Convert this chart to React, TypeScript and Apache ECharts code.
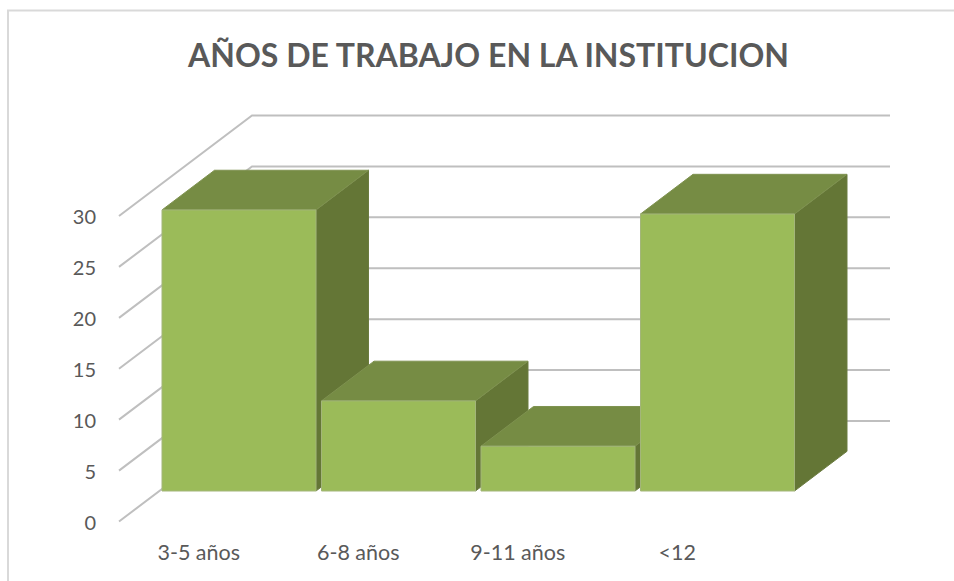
import React, { useEffect, useRef } from "react";
import * as echarts from "echarts";

const titleText = "AÑOS DE TRABAJO EN LA INSTITUCION";
const categories = ["3-5 años", "6-8 años", "9-11 años", "<12"];
const barValues = [27.6, 8.85, 4.4, 27.2];
const wallTicks = [0, 5, 10, 15, 20, 25, 30];

const WALL_DX = 133;
const WALL_DY = -100.5;
const BAR_DX = 43;
const BAR_DY = -30.5;
const TOP_DX = 52.5;
const TOP_DY = -39.7;
const BAR_WIDTH = 154;

export default function App() {
  const ref = useRef<HTMLDivElement>(null);
  useEffect(() => {
    const chart = echarts.init(ref.current!, undefined, { renderer: "svg" });
    chart.setOption({
      animation: false,
      backgroundColor: "#ffffff",
      title: {
        text: titleText,
        left: 483.5,
        top: 33,
        textAlign: "center",
        textStyle: { fontFamily: "Lato", fontWeight: "bold", fontSize: 32, color: "#595959" },
      },
      grid: { left: 119, top: 216, width: 638, height: 305.5 },
      xAxis: {
        type: "category",
        data: categories,
        axisLine: { show: false },
        axisTick: { show: false },
        axisLabel: { color: "#595959", fontFamily: "Lato", fontSize: 21.5, margin: 19 },
      },
      yAxis: {
        type: "value",
        min: 0,
        max: 30,
        interval: 5,
        splitLine: { show: false },
        axisLine: { show: false },
        axisTick: { show: false },
        axisLabel: { color: "#595959", fontFamily: "Lato", fontSize: 20, margin: 23 },
      },
      graphic: [
        {
          type: "polyline",
          shape: { points: [[8, 581], [8, 10.5], [954, 10.5]] },
          style: { stroke: "#d9d9d9", lineWidth: 2, fill: "none" },
          silent: true,
        },
      ],
      series: [
        {
          type: "custom",
          name: "walls",
          silent: true,
          z: 1,
          data: wallTicks.map((v) => [0, v]),
          encode: { x: 0, y: 1 },
          renderItem: (_p: any, api: any) => {
            const c = api.coord([0, api.value(1)]);
            const band = api.size([1, 0])[0];
            const x0 = c[0] - band / 2;
            const y0 = c[1];
            return {
              type: "polyline",
              shape: {
                points: [
                  [x0, y0],
                  [x0 + WALL_DX, y0 + WALL_DY],
                  [x0 + WALL_DX + band * categories.length, y0 + WALL_DY],
                ],
              },
              style: { stroke: "#bfbfbf", lineWidth: 2, fill: "none" },
            };
          },
        },
        {
          type: "custom",
          name: "bars",
          silent: true,
          z: 2,
          data: barValues.map((v, i) => [i, v]),
          encode: { x: 0, y: 1 },
          renderItem: (_p: any, api: any) => {
            const i = api.value(0);
            const top = api.coord([i, api.value(1)]);
            const base = api.coord([i, 0]);
            const band = api.size([1, 0])[0];
            const x0 = top[0] - band / 2 + BAR_DX;
            const x1 = x0 + BAR_WIDTH;
            const yT = top[1] + BAR_DY;
            const yB = base[1] + BAR_DY;
            const face = (points: number[][], fill: string, stroke: string) => ({
              type: "polygon",
              shape: { points },
              style: { fill, stroke, lineWidth: 1 },
            });
            return {
              type: "group",
              children: [
                face(
                  [[x1, yT], [x1 + TOP_DX, yT + TOP_DY], [x1 + TOP_DX, yB + TOP_DY], [x1, yB]],
                  "#647636",
                  "#6b7c40"
                ),
                face(
                  [[x0, yT], [x0 + TOP_DX, yT + TOP_DY], [x1 + TOP_DX, yT + TOP_DY], [x1, yT]],
                  "#768c44",
                  "#7f9250"
                ),
                face([[x0, yT], [x1, yT], [x1, yB], [x0, yB]], "#9bbb59", "#a3b57a"),
              ],
            };
          },
        },
      ],
    });
    return () => chart.dispose();
  }, []);
  return <div ref={ref} style={{ position: "fixed", left: 0, top: 0, width: 954, height: 581 }} />;
}
